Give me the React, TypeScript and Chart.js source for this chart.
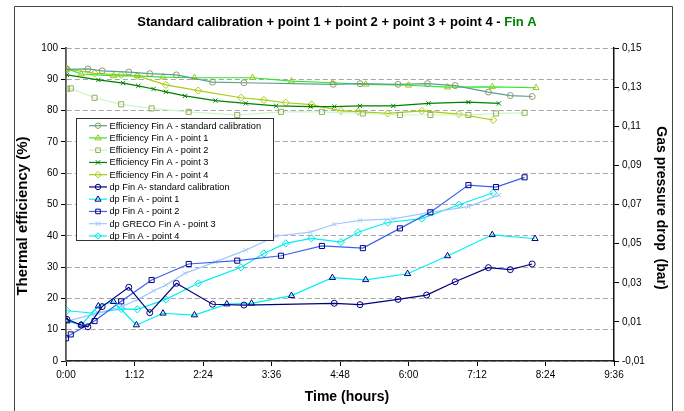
import React, { useEffect, useRef } from 'react';
import { Chart, registerables } from 'chart.js';

Chart.register(...registerables);

// ---- Data (time in minutes) ----
const effStdTime = [1, 23, 38, 66, 88, 116, 154, 187, 281, 309, 349, 380, 409, 444, 467, 490];
const effStdVals = [93.2, 93.3, 92.7, 92.3, 91.8, 91.4, 89.1, 88.9, 88.4, 88.6, 88.4, 88.6, 88.0, 85.9, 84.8, 84.5];

const effP1Time = [1, 16, 50, 75, 102, 135, 196, 237, 280, 315, 360, 401, 448, 494];
const effP1Vals = [93.4, 91.7, 91.1, 91.1, 90.7, 90.5, 90.5, 89.4, 88.9, 88.4, 88.1, 87.5, 87.6, 87.3];

const effP2Time = [1, 5, 30, 58, 90, 129, 180, 226, 269, 312, 351, 383, 423, 452, 482];
const effP2Vals = [86.9, 87.1, 84.1, 82.0, 80.7, 79.6, 78.6, 79.6, 79.6, 79.1, 78.6, 78.6, 78.6, 79.1, 79.3];

const effP3Time = [1, 34, 60, 76, 92, 105, 125, 157, 189, 221, 257, 282, 309, 344, 381, 423, 455];
const effP3Vals = [91.4, 89.8, 88.8, 87.9, 86.9, 86.0, 84.7, 83.2, 82.3, 81.5, 81.3, 81.3, 81.5, 81.5, 82.3, 82.7, 82.3];

const effP4Time = [1, 30, 58, 75, 105, 139, 184, 208, 231, 258, 289, 307, 338, 374, 413, 449];
const effP4Vals = [93.3, 91.9, 91.4, 91.1, 88.2, 86.4, 84.1, 83.4, 82.5, 81.9, 79.9, 79.7, 79.1, 79.9, 78.9, 77.0];

const dpStdTime = [1, 16, 23, 38, 66, 88, 116, 154, 187, 282, 309, 349, 379, 409, 444, 467, 490];
const dpStdVals = [0.0113, 0.0084, 0.0075, 0.0178, 0.0277, 0.0147, 0.0297, 0.019, 0.0186, 0.0195, 0.0188, 0.0215, 0.0237, 0.0305, 0.0377, 0.0367, 0.0396];

const dpP1Time = [1, 16, 34, 50, 74, 102, 135, 169, 195, 237, 280, 315, 359, 401, 448, 493];
const dpP1Vals = [0.0104, 0.0084, 0.0181, 0.0203, 0.0084, 0.0144, 0.0135, 0.0191, 0.0195, 0.0234, 0.0326, 0.0315, 0.0346, 0.0437, 0.0545, 0.0525];

const dpP2Time = [0, 5, 30, 58, 90, 129, 180, 226, 269, 312, 351, 383, 423, 452, 482];
const dpP2Vals = [0.0016, 0.0036, 0.0104, 0.0205, 0.0314, 0.0396, 0.0413, 0.0438, 0.0488, 0.0477, 0.0578, 0.066, 0.0799, 0.0789, 0.0839];

const dpP3Time = [1, 34, 60, 76, 92, 105, 125, 157, 189, 221, 257, 282, 309, 344, 381, 423, 455];
const dpP3Vals = [0.0104, 0.0145, 0.0181, 0.0215, 0.0259, 0.0288, 0.0348, 0.0407, 0.0467, 0.0539, 0.0559, 0.0599, 0.0619, 0.0627, 0.0658, 0.0689, 0.0748];

const dpP4Time = [1, 30, 58, 75, 105, 139, 184, 208, 231, 258, 289, 307, 338, 374, 413, 449];
const dpP4Vals = [0.0157, 0.0144, 0.0166, 0.0164, 0.0215, 0.0297, 0.0379, 0.045, 0.0501, 0.0527, 0.0508, 0.0558, 0.0608, 0.0628, 0.0699, 0.076];

const seriesLabels = [
  'Efficiency Fin A - standard calibration',
  'Efficiency Fin A - point 1',
  'Efficiency Fin A - point 2',
  'Efficiency Fin A - point 3',
  'Efficiency Fin A - point 4',
  'dp Fin A- standard calibration',
  'dp Fin A - point 1',
  'dp Fin A - point 2',
  'dp GRECO Fin A - point 3',
  'dp Fin A - point 4',
];

const leftTicks = [0, 10, 20, 30, 40, 50, 60, 70, 80, 90, 100];
const rightTicks = [-0.01, 0.01, 0.03, 0.05, 0.07, 0.09, 0.11, 0.13, 0.15];
const timeTicks = [0, 72, 144, 216, 288, 360, 432, 504, 576];

const FONT = '"Liberation Sans", Arial, sans-serif';

const pts = (t: number[], v: number[]) => t.map((x, i) => ({ x, y: v[i] }));

type Style = { line: string; marker: string; shape: string; r: number };
const styles: Style[] = [
  { line: '#5a9e8e', marker: '#8e9c68', shape: 'circle', r: 3 },
  { line: '#2ee82e', marker: '#a2c41c', shape: 'triangle', r: 3.6 },
  { line: '#c8f8c8', marker: '#9aab5c', shape: 'rect', r: 3.6 },
  { line: '#008000', marker: '#008000', shape: 'crossRot', r: 3 },
  { line: '#a8cc14', marker: '#a8cc14', shape: 'rectRot', r: 3.6 },
  { line: '#000080', marker: '#000080', shape: 'circle', r: 3 },
  { line: '#00f0f0', marker: '#000080', shape: 'triangle', r: 3.6 },
  { line: '#3a62f0', marker: '#000080', shape: 'rect', r: 3.6 },
  { line: '#a0c8ff', marker: '#a0c8ff', shape: 'crossRot', r: 3 },
  { line: '#00f0f0', marker: '#00e0e0', shape: 'rectRot', r: 3.6 },
];

function drawMarker(ctx: CanvasRenderingContext2D, shape: string, x: number, y: number, r: number) {
  ctx.beginPath();
  if (shape === 'circle') {
    ctx.arc(x, y, r, 0, Math.PI * 2);
  } else if (shape === 'rect') {
    const s = r * Math.SQRT1_2;
    ctx.rect(x - s, y - s, 2 * s, 2 * s);
  } else if (shape === 'rectRot') {
    ctx.moveTo(x, y - r);
    ctx.lineTo(x + r, y);
    ctx.lineTo(x, y + r);
    ctx.lineTo(x - r, y);
    ctx.closePath();
  } else if (shape === 'triangle') {
    const h = r * 1.5;
    ctx.moveTo(x, y - r);
    ctx.lineTo(x + r * 0.95, y + r * 0.6);
    ctx.lineTo(x - r * 0.95, y + r * 0.6);
    ctx.closePath();
    void h;
  } else if (shape === 'crossRot') {
    const s = r * Math.SQRT1_2 * 1.2;
    ctx.moveTo(x - s, y - s);
    ctx.lineTo(x + s, y + s);
    ctx.moveTo(x + s, y - s);
    ctx.lineTo(x - s, y + s);
  }
  ctx.stroke();
}

const decorPlugin = {
  id: 'decor',
  afterDraw(chart: any) {
    const ctx: CanvasRenderingContext2D = chart.ctx;
    ctx.save();
    // outer frame
    ctx.strokeStyle = '#444';
    ctx.lineWidth = 1;
    ctx.beginPath();
    ctx.moveTo(14.5, 420);
    ctx.lineTo(14.5, 6.5);
    ctx.lineTo(672.5, 6.5);
    ctx.lineTo(672.5, 420);
    ctx.stroke();

    // title
    ctx.font = `bold 13px ${FONT}`;
    ctx.textBaseline = 'middle';
    ctx.textAlign = 'left';
    const t1 = 'Standard calibration + point 1 + point 2 + point 3 + point 4 - ';
    const t2 = 'Fin A';
    const w1 = ctx.measureText(t1).width;
    const w2 = ctx.measureText(t2).width;
    const tx = 337 - (w1 + w2) / 2;
    ctx.fillStyle = '#000';
    ctx.fillText(t1, tx, 22);
    ctx.fillStyle = '#008000';
    ctx.fillText(t2, tx + w1, 22);

    // axis titles
    ctx.fillStyle = '#000';
    ctx.font = `bold 14px ${FONT}`;
    ctx.textAlign = 'center';
    ctx.fillText('Time (hours)', 347, 397);

    ctx.save();
    ctx.translate(23, 216);
    ctx.rotate(-Math.PI / 2);
    ctx.font = `bold 15px ${FONT}`;
    ctx.fillText('Thermal efficiency (%)', 0, 0);
    ctx.restore();

    ctx.save();
    ctx.translate(661, 208);
    ctx.rotate(Math.PI / 2);
    ctx.font = `bold 14px ${FONT}`;
    ctx.fillText('Gas pressure drop  (bar)', 0, 0);
    ctx.restore();

    // legend box
    const bx = 76.5, by = 118.5, bw = 197, bh = 122;
    ctx.fillStyle = '#fff';
    ctx.fillRect(bx, by, bw, bh);
    ctx.strokeStyle = '#333';
    ctx.lineWidth = 1;
    ctx.strokeRect(bx, by, bw, bh);
    ctx.font = `9.2px ${FONT}`;
    ctx.textAlign = 'left';
    ctx.textBaseline = 'middle';
    seriesLabels.forEach((label, i) => {
      const y = 125.7 + i * 12.25;
      const st = styles[i];
      ctx.strokeStyle = st.line;
      ctx.lineWidth = 1.2;
      ctx.beginPath();
      ctx.moveTo(89, y);
      ctx.lineTo(107, y);
      ctx.stroke();
      ctx.strokeStyle = st.marker;
      ctx.lineWidth = 1;
      drawMarker(ctx, st.shape, 98, y, st.r * 0.9);
      ctx.fillStyle = '#000';
      ctx.fillText(label, 109.5, y + 0.5);
    });
    ctx.restore();
  },
};

function ds(i: number, data: { x: number; y: number }[], axis: string) {
  const st = styles[i];
  return {
    label: seriesLabels[i],
    data,
    yAxisID: axis,
    borderColor: st.line,
    borderWidth: 1.2,
    pointStyle: st.shape,
    pointRadius: st.r,
    pointBorderColor: st.marker,
    pointBackgroundColor: 'rgba(0,0,0,0)',
    pointBorderWidth: 1,
    tension: 0,
    fill: false,
  };
}

export default function App() {
  const ref = useRef<HTMLCanvasElement>(null);
  useEffect(() => {
    if (!ref.current) return;
    const chart = new Chart(ref.current, {
      type: 'line',
      data: {
        datasets: [
          ds(0, pts(effStdTime, effStdVals), 'y'),
          ds(1, pts(effP1Time, effP1Vals), 'y'),
          ds(2, pts(effP2Time, effP2Vals), 'y'),
          ds(3, pts(effP3Time, effP3Vals), 'y'),
          ds(4, pts(effP4Time, effP4Vals), 'y'),
          ds(5, pts(dpStdTime, dpStdVals), 'y1'),
          ds(6, pts(dpP1Time, dpP1Vals), 'y1'),
          ds(7, pts(dpP2Time, dpP2Vals), 'y1'),
          ds(8, pts(dpP3Time, dpP3Vals), 'y1'),
          ds(9, pts(dpP4Time, dpP4Vals), 'y1'),
        ] as any,
      },
      options: {
        animation: false,
        responsive: false,
        devicePixelRatio: 1,
        layout: { padding: { top: 48, left: 0, right: 0, bottom: 0 } },
        plugins: {
          legend: { display: false },
          title: { display: false },
          tooltip: { enabled: false },
        },
        scales: {
          x: {
            type: 'linear',
            min: 0,
            max: 576,
            afterFit: (s: any) => { s.height = 50; },
            afterBuildTicks: (s: any) => { s.ticks = timeTicks.map((v) => ({ value: v })); },
            ticks: {
              autoSkip: false,
              maxRotation: 0,
              padding: 3,
              color: '#000',
              font: { family: FONT, size: 10 },
              callback: (v: any) => {
                const m = Number(v);
                const h = Math.floor(m / 60);
                const mm = Math.round(m % 60);
                return `${h}:${mm < 10 ? '0' + mm : mm}`;
              },
            },
            grid: { drawOnChartArea: false, drawTicks: true, tickLength: 5, tickColor: '#000' },
            border: { color: '#222', width: 1.5 },
          },
          y: {
            type: 'linear',
            position: 'left',
            min: 0,
            max: 100,
            afterFit: (s: any) => { s.width = 66; },
            afterBuildTicks: (s: any) => { s.ticks = leftTicks.map((v) => ({ value: v })); },
            ticks: { padding: 3, color: '#000', font: { family: FONT, size: 10 } },
            grid: { color: '#a6a6a6', lineWidth: 1, drawTicks: true, tickLength: 5, tickColor: '#000' },
            border: { color: '#555', width: 1.8, dash: [5, 3] },
          },
          y1: {
            type: 'linear',
            position: 'right',
            min: -0.01,
            max: 0.15,
            afterFit: (s: any) => { s.width = 70; },
            afterBuildTicks: (s: any) => { s.ticks = rightTicks.map((v) => ({ value: v })); },
            ticks: {
              padding: 3,
              color: '#000',
              font: { family: FONT, size: 10 },
              callback: (v: any) => Number(v).toFixed(2).replace('.', ','),
            },
            grid: { drawOnChartArea: false, drawTicks: true, tickLength: 5, tickColor: '#000' },
            border: { color: '#111', width: 1.5 },
          },
        },
      },
      plugins: [decorPlugin],
    });
    return () => chart.destroy();
  }, []);
  return (
    <div style={{ position: 'absolute', left: 0, top: 0, width: 684, height: 411, background: '#fff' }}>
      <canvas ref={ref} width={684} height={411} style={{ width: 684, height: 411, display: 'block' }} />
    </div>
  );
}
